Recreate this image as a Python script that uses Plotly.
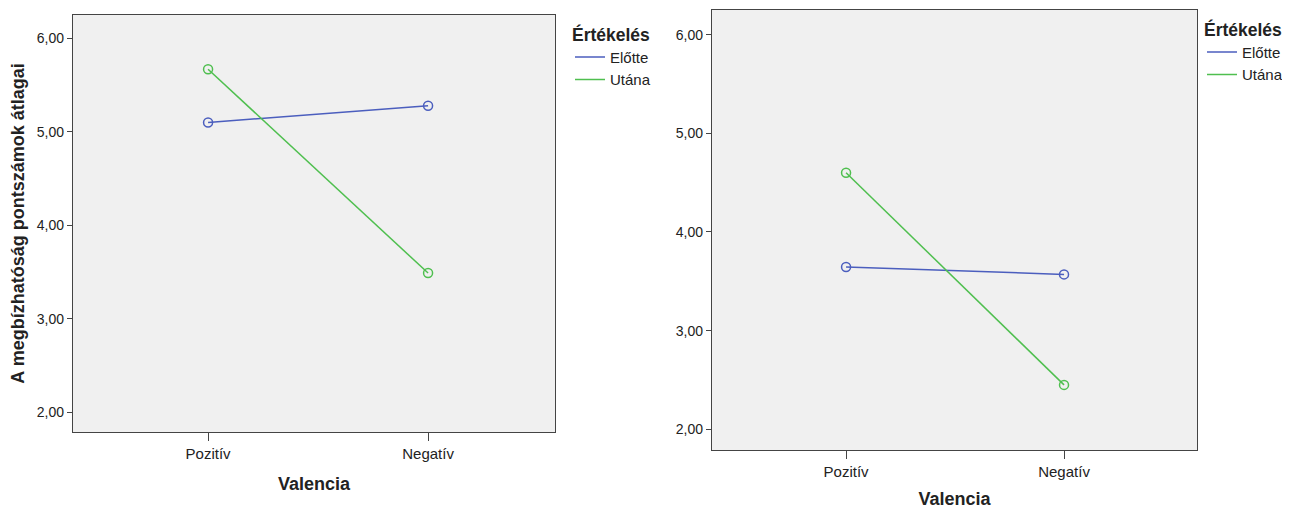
import plotly.graph_objects as go

categories = ["Pozitív", "Negatív"]
series_names = ["Előtte", "Utána"]
left_elotte = [5.10, 5.28]
left_utana = [5.67, 3.49]
right_elotte = [3.645, 3.57]
right_utana = [4.60, 2.45]
y_ticks = [2, 3, 4, 5, 6]
y_tick_labels = ["2,00", "3,00", "4,00", "5,00", "6,00"]

colors = {"Előtte": "#4B5EBE", "Utána": "#4FBF4F"}
OFF = 8  # default page body margin
W, H = 1290 - OFF, 509 - OFF
FONT = "Liberation Sans, Arial"
TXT = "#222222"

def px(x):
    return (x - OFF) / W

def py(y):
    return 1 - (y - OFF) / H

fig = go.Figure()

def add(name, vals, xa, ya, legend):
    fig.add_trace(go.Scatter(
        x=[0, 1], y=vals, name=name, mode="lines",
        xaxis=xa, yaxis=ya, legend=legend,
        line=dict(color=colors[name], width=1.5),
    ))
    fig.add_trace(go.Scatter(
        x=[0, 1], y=vals, name=name, mode="markers", showlegend=False,
        xaxis=xa, yaxis=ya,
        marker=dict(symbol="circle-open", size=9, color=colors[name], line=dict(width=1.5)),
    ))

add("Előtte", left_elotte, "x", "y", "legend")
add("Utána", left_utana, "x", "y", "legend")
add("Előtte", right_elotte, "x2", "y2", "legend2")
add("Utána", right_utana, "x2", "y2", "legend2")

ax_common = dict(showline=True, mirror=True, linecolor="#444444", linewidth=1.3,
                 showgrid=False, zeroline=False, ticks="outside", tickcolor="#444444",
                 automargin=False)

xa = dict(ax_common, tickvals=[0, 1], ticktext=categories, ticklen=8,
          tickfont=dict(family=FONT, size=15, color=TXT))
ya = dict(ax_common, tickvals=y_ticks, ticktext=y_tick_labels, ticklen=5, range=[1.79, 6.25],
          tickfont=dict(family=FONT, size=14, color=TXT))

def xtitle(standoff):
    return dict(text="<b>Valencia</b>", font=dict(family=FONT, size=18, color=TXT), standoff=standoff)

leg_common = dict(xanchor="left", yanchor="top", bgcolor="rgba(0,0,0,0)",
                  font=dict(family=FONT, size=15, color=TXT), tracegroupgap=0, itemwidth=30,
                  title=dict(text="<b>Értékelés</b>", font=dict(family=FONT, size=17.5, color=TXT), side="top"))

fig.update_layout(
    width=W, height=H, margin=dict(l=0, r=0, t=0, b=0),
    paper_bgcolor="white", plot_bgcolor="#F0F0F0",
    xaxis=dict(xa, domain=[px(73), px(555)], anchor="y", range=[-0.614, 1.577], title=xtitle(16)),
    yaxis=dict(ya, domain=[py(432), py(15)], anchor="x",
               title=dict(text="<b>A megbízhatóság pontszámok átlagai</b>",
                          font=dict(family=FONT, size=18, color=TXT), standoff=7)),
    xaxis2=dict(xa, domain=[px(712), px(1197)], anchor="y2", range=[-0.615, 1.61], title=xtitle(17)),
    yaxis2=dict(ya, domain=[py(450), py(10)], anchor="x2"),
    legend=dict(leg_common, x=px(570), y=py(18)),
    legend2=dict(leg_common, x=px(1202), y=py(13)),
    showlegend=True,
)

fig.write_html("out.html")
